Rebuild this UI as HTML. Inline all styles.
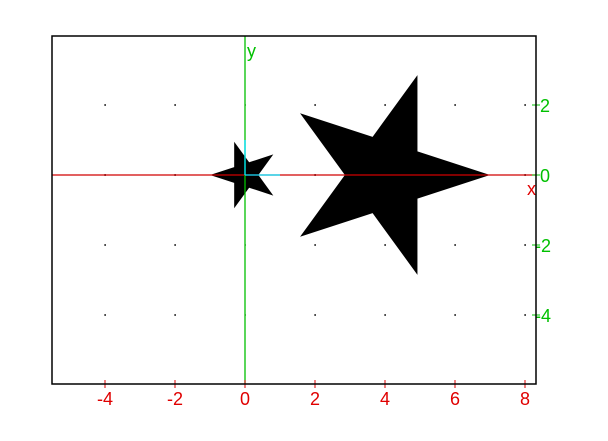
<!DOCTYPE html>
<html><head><meta charset="utf-8"><style>body{margin:0;background:#fff}svg{display:block}text{font-family:"Liberation Sans",sans-serif;font-size:18px}</style></head>
<body>
<svg id="chart" width="608" height="441" xmlns="http://www.w3.org/2000/svg">
<g id="grid"></g>
<g id="shapes"></g>
<g id="axes"></g>
<rect x="52" y="36" width="484" height="348" fill="none" stroke="#000" stroke-width="1.5"/>
</svg>
<script>
const xTicks=[-4,-2,0,2,4,6,8];
const yTicks=[2,0,-2,-4];
const starCenters=[[0,0],[4,0]];
const starRadii=[1,3];
const starStartAngles=[180,0];
const NS="http://www.w3.org/2000/svg";
const X0=245,Y0=175,S=35;
function sx(v){return X0+v*S}
function sy(v){return Y0-v*S}
function mk(t,a,p){const e=document.createElementNS(NS,t);for(const k in a)e.setAttribute(k,a[k]);p.appendChild(e);return e}
const grid=document.getElementById('grid'),shapes=document.getElementById('shapes'),axes=document.getElementById('axes');
for(let gx=-4;gx<=8;gx+=2)for(let gy=2;gy>=-4;gy-=2){
 const d=mk('rect',{x:sx(gx)-0.5,y:sy(gy)-1,width:1.2,height:2,fill:'#000'},grid);
 
 
}
starCenters.forEach((c,i)=>{
 const R=starRadii[i],r=R*0.382;let pts=[];
 for(let k=0;k<10;k++){const a=(starStartAngles[i]+k*36)*Math.PI/180;const rr=k%2?r:R;pts.push(sx(c[0]+rr*Math.cos(a))+','+sy(c[1]+rr*Math.sin(a)));}
 const p=mk('polygon',{points:pts.join(' '),fill:'#000'},shapes);
 
 
});
let l=mk('line',{x1:52,x2:536,y1:sy(0),y2:sy(0),stroke:'#d00000','stroke-width':1.3},axes);


l=mk('line',{x1:sx(0),x2:sx(0),y1:36,y2:384,stroke:'#00c000','stroke-width':1.3},axes);


l=mk('line',{x1:sx(0),x2:sx(1),y1:sy(0),y2:sy(0),stroke:'#00e0ff','stroke-width':1.3},axes);


l=mk('line',{x1:sx(0),x2:sx(0),y1:sy(0),y2:sy(1),stroke:'#00e0ff','stroke-width':1.3},axes);


xTicks.forEach(v=>{
 const tk=mk('line',{x1:sx(v),x2:sx(v),y1:380,y2:388,stroke:'#e00000'},axes);
 
 
 const t=mk('text',{x:sx(v),y:405,'text-anchor':'middle',fill:'#e00000'},axes);t.textContent=v;
 
 
});
yTicks.forEach(v=>{
 const tk=mk('line',{x1:532,x2:540,y1:sy(v),y2:sy(v),stroke:'#00c000'},axes);
 
 
 const t=mk('text',{x:v<0?535:540,y:sy(v)+7,fill:'#00c000'},axes);t.textContent=v;
 
 
});
let t=mk('text',{x:527,y:195,fill:'#e00000'},axes);t.textContent='x';


t=mk('text',{x:247,y:57,fill:'#00c000'},axes);t.textContent='y';


</script>
</body></html>
